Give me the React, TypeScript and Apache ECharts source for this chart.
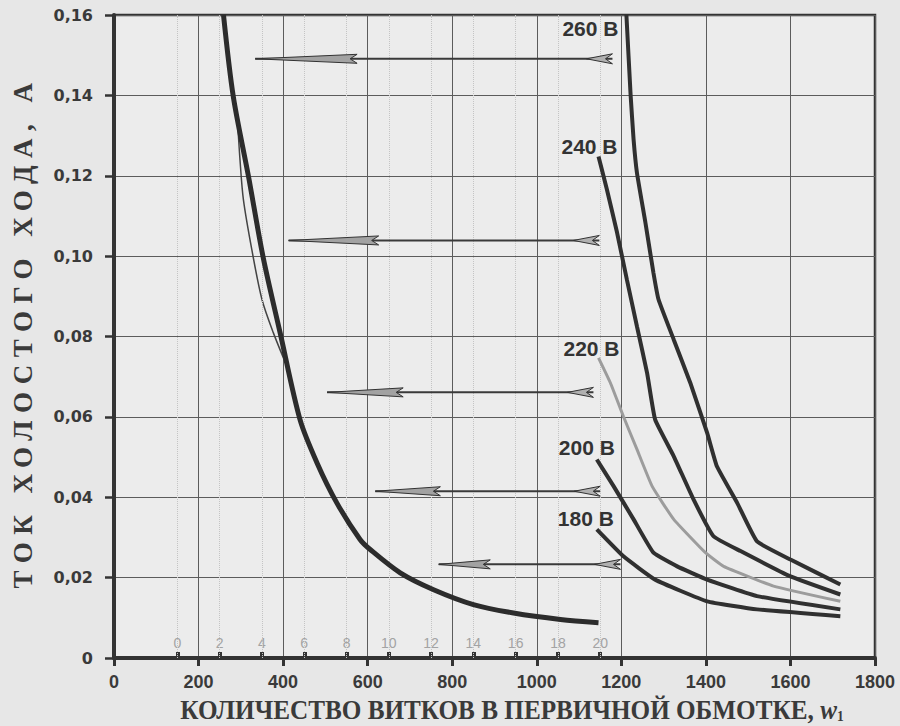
import React, { useEffect, useRef } from "react";
import * as echarts from "echarts";

// ---------- data ----------
const xMain = [259, 282, 318, 353, 393, 440, 480, 527, 582, 606, 677, 756, 850, 945, 1056, 1146];
const yMain = [0.16, 0.1398, 0.1199, 0.0996, 0.0809, 0.0593, 0.0486, 0.0386, 0.0295, 0.027, 0.0212, 0.017, 0.0133, 0.0112, 0.0096, 0.0088];

const xBranch = [292, 298, 306, 326, 350, 377, 409];
const yBranch = [0.134, 0.124, 0.1141, 0.1016, 0.0892, 0.0809, 0.0726];

const x260 = [1212, 1222, 1229, 1237, 1257, 1276, 1288, 1324, 1363, 1403, 1426, 1474, 1521, 1600, 1718];
const y260 = [0.16, 0.14, 0.129, 0.1207, 0.1083, 0.0958, 0.0892, 0.0792, 0.0685, 0.056, 0.0477, 0.0386, 0.029, 0.0245, 0.0183];

const x240 = [1146, 1166, 1190, 1213, 1237, 1261, 1280, 1324, 1371, 1418, 1482, 1600, 1718];
const y240 = [0.1248, 0.1165, 0.1058, 0.0942, 0.0825, 0.0709, 0.0593, 0.0502, 0.0394, 0.0303, 0.0266, 0.0203, 0.0158];

const x220 = [1146, 1174, 1205, 1237, 1273, 1324, 1399, 1442, 1560, 1718];
const y220 = [0.0747, 0.0685, 0.0601, 0.0519, 0.0427, 0.0345, 0.0262, 0.0228, 0.0179, 0.0141];

const x200 = [1142, 1182, 1229, 1276, 1332, 1403, 1521, 1718];
const y200 = [0.0494, 0.0427, 0.0345, 0.0262, 0.0228, 0.0195, 0.0154, 0.0121];

const x180 = [1142, 1205, 1280, 1403, 1521, 1718];
const y180 = [0.032, 0.0253, 0.0195, 0.0141, 0.0121, 0.0104];

const voltNames = ["260 В", "240 В", "220 В", "200 В", "180 В"];

// arrows: tip (left), end of arrow head, tail (right), level
const arrowY = [0.1491, 0.1039, 0.0661, 0.0415, 0.0233];
const arrowTip = [334, 413, 504, 618, 768];
const arrowHeadEnd = [575, 626, 684, 772, 890];
const arrowTail = [1179, 1148, 1134, 1150, 1198];

// secondary small scale along the x axis
const subTicks = [0, 2, 4, 6, 8, 10, 12, 14, 16, 18, 20];

const xTitle = "КОЛИЧЕСТВО ВИТКОВ В ПЕРВИЧНОЙ ОБМОТКЕ, ";
const yTitle = "ТОК ХОЛОСТОГО ХОДА, А";

const zip = (xs: number[], ys: number[]) => xs.map((x, i) => [x, ys[i]]);

export default function App() {
  const ref = useRef<HTMLDivElement>(null);
  useEffect(() => {
    if (!ref.current) return;
    const chart = echarts.init(ref.current, null, { renderer: "svg" });

    const ink = "#303030";
    const labelOffsets = [
      [-36, 13],
      [-9, -10],
      [-7, -9],
      [-10, -12],
      [-11, -11],
    ];
    const volt = [
      { xs: x260, ys: y260, color: ink, width: 4 },
      { xs: x240, ys: y240, color: ink, width: 4 },
      { xs: x220, ys: y220, color: "#9c9c9c", width: 3 },
      { xs: x200, ys: y200, color: ink, width: 4 },
      { xs: x180, ys: y180, color: ink, width: 4 },
    ];

    const voltSeries = volt.map((v, i) => ({
      type: "line",
      name: voltNames[i],
      data: zip(v.xs, v.ys),
      showSymbol: false,
      symbol: "none",
      smooth: 0.12,
      lineStyle: { color: v.color, width: v.width },
      silent: true,
      z: 5,
      markPoint: {
        silent: true,
        symbol: "circle",
        symbolSize: 0,
        data: [{ coord: [v.xs[0], v.ys[0]] }],
        label: {
          show: true,
          position: "inside",
          offset: labelOffsets[i],
          formatter: voltNames[i],
          fontFamily: "Liberation Sans",
          fontWeight: "bold",
          fontSize: 21,
          color: "#333",
        },
      },
    }));

    const option: any = {
      animation: false,
      backgroundColor: "#e7e7e7",
      grid: {
        left: 114,
        right: 25,
        top: 15,
        bottom: 68,
        show: true,
        backgroundColor: "#ececec",
        borderColor: "#333",
        borderWidth: 2.5,
      },
      xAxis: [
        {
          type: "value",
          min: 0,
          max: 1800,
          interval: 200,
          position: "bottom",
          axisLine: { show: true, lineStyle: { color: "#333", width: 4 } },
          axisTick: { show: true, length: 8, lineStyle: { color: "#333", width: 3 } },
          axisLabel: {
            formatter: (v: number) => String(v),
            fontFamily: "Liberation Sans",
            fontWeight: "bold",
            fontSize: 18,
            color: "#3a3a3a",
            margin: 15,
            showMinLabel: true,
            showMaxLabel: true,
          },
          splitLine: { show: true, lineStyle: { color: "#5c5c5c", width: 1 } },
        },
        {
          type: "value",
          min: -3,
          max: 33,
          position: "bottom",
          axisLine: { show: false },
          axisTick: {
            show: true,
            inside: true,
            length: 6,
            customValues: subTicks,
            lineStyle: { color: "#333", width: 4 },
          },
          axisLabel: {
            show: true,
            inside: true,
            customValues: subTicks,
            color: "#a3a3a3",
            fontFamily: "Liberation Sans",
            fontSize: 14,
            margin: 8,
          },
          splitLine: { show: false },
        },
      ],
      yAxis: {
        type: "value",
        min: 0,
        max: 0.16,
        interval: 0.02,
        axisLine: { show: true, lineStyle: { color: "#333", width: 4 } },
        axisTick: { show: true, length: 9, lineStyle: { color: "#333", width: 2.5 } },
        axisLabel: {
          formatter: (v: number) => (v === 0 ? "0" : v.toFixed(2).replace(".", ",")),
          fontFamily: "DejaVu Sans",
          fontWeight: "bold",
          fontSize: 16,
          color: "#3a3a3a",
          margin: 21,
        },
        splitLine: { show: true, lineStyle: { color: "#5c5c5c", width: 1 } },
      },
      graphic: [
        {
          type: "text",
          x: 23,
          y: 332,
          rotation: Math.PI / 2,
          silent: true,
          style: {
            text: yTitle,
            fontFamily: "Liberation Serif",
            fontWeight: "bold",
            fontSize: 27,
            fill: "#3a3a3a",
            align: "center",
            verticalAlign: "middle",
          },
        },
        {
          type: "text",
          x: 512,
          y: 710,
          scaleX: 0.9,
          silent: true,
          style: {
            text: xTitle + "{w|w}{s|1}",
            fontFamily: "Liberation Serif",
            fontWeight: "bold",
            fontSize: 28,
            fill: "#3a3a3a",
            align: "center",
            verticalAlign: "middle",
            rich: {
              w: { fontFamily: "Liberation Serif", fontStyle: "italic", fontWeight: "bold", fontSize: 28, fill: "#3a3a3a" },
              s: { fontFamily: "Liberation Serif", fontWeight: "bold", fontSize: 15, fill: "#3a3a3a", padding: [12, 0, 0, 0] },
            },
          },
        },
      ],
      series: [
        {
          type: "line",
          xAxisIndex: 1,
          data: [[0, 0]],
          showSymbol: false,
          symbol: "none",
          silent: true,
          lineStyle: { width: 0 },
          markLine: {
            silent: true,
            symbol: ["none", "none"],
            label: { show: false },
            lineStyle: { type: "dotted", color: "#c4c4c4", width: 1 },
            data: subTicks.map((v) => ({ xAxis: v })),
          },
          z: 1,
        },
        {
          type: "line",
          name: "main",
          data: zip(xMain, yMain),
          showSymbol: false,
          symbol: "none",
          smooth: 0.3,
          lineStyle: { color: "#2c2c2c", width: 5 },
          silent: true,
          z: 5,
        },
        {
          type: "line",
          name: "branch",
          data: zip(xBranch, yBranch),
          showSymbol: false,
          symbol: "none",
          smooth: 0.3,
          lineStyle: { color: "#444", width: 1.5 },
          silent: true,
          z: 4,
        },
        ...voltSeries,
        {
          type: "custom",
          name: "arrows",
          silent: true,
          z: 6,
          encode: { x: [0, 2, 3], y: 1 },
          data: arrowY.map((y, i) => [arrowTip[i], y, arrowHeadEnd[i], arrowTail[i]]),
          renderItem: (params: any, api: any) => {
            const y = api.value(1);
            const tip = api.coord([api.value(0), y]);
            const head = api.coord([api.value(2), y]);
            const tail = api.coord([api.value(3), y]);
            const yy = tip[1];
            return {
              type: "group",
              children: [
                {
                  type: "line",
                  shape: { x1: tip[0], y1: yy, x2: tail[0], y2: yy },
                  style: { stroke: "#3a3a3a", lineWidth: 2 },
                },
                {
                  type: "polygon",
                  shape: {
                    points: [
                      [tip[0], yy],
                      [head[0], yy - 4.5],
                      [head[0] - 7, yy],
                      [head[0], yy + 4.5],
                    ],
                  },
                  style: { fill: "#a2a2a2", stroke: "#333", lineWidth: 1 },
                },
                {
                  type: "polygon",
                  shape: {
                    points: [
                      [tail[0] - 26, yy],
                      [tail[0], yy - 5],
                      [tail[0] - 7, yy],
                      [tail[0], yy + 5],
                    ],
                  },
                  style: { fill: "#b0b0b0", stroke: "#333", lineWidth: 1 },
                },
              ],
            };
          },
        },
      ],
    };

    chart.setOption(option);

    const spaceTitle = () => {
      const root = ref.current;
      if (!root) return;
      root.querySelectorAll("text").forEach((t) => {
        if (t.textContent === yTitle) t.setAttribute("letter-spacing", "7.5");
      });
    };
    spaceTitle();
    chart.on("finished", spaceTitle);
    const timer = setTimeout(spaceTitle, 50);

    return () => {
      clearTimeout(timer);
      chart.dispose();
    };
  }, []);

  return (
    <div
      ref={ref}
      style={{ position: "absolute", left: 0, top: 0, width: 900, height: 726, background: "#e7e7e7" }}
    />
  );
}
